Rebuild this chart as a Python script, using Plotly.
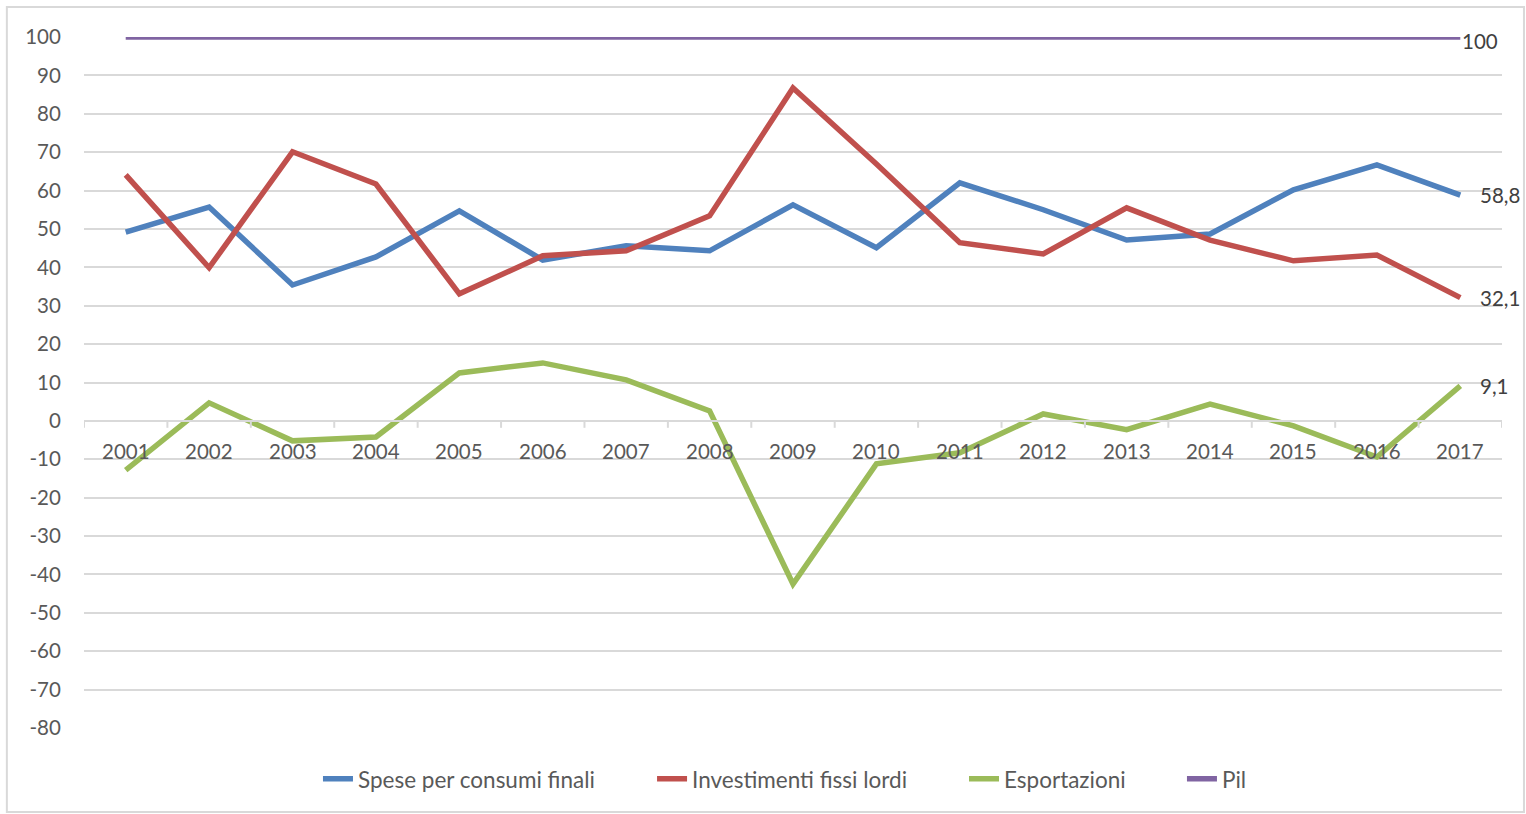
import plotly.graph_objects as go

years = [str(y) for y in range(2001, 2018)]

spese = [49.2, 55.7, 35.4, 42.7, 54.7, 41.9, 45.6, 44.3, 56.3, 45.1, 62.0, 55.0, 47.1, 48.7, 60.2, 66.7, 58.8]
investimenti = [64.1, 39.9, 70.1, 61.7, 33.1, 43.0, 44.3, 53.4, 86.7, 66.9, 46.4, 43.5, 55.5, 47.1, 41.7, 43.2, 32.1]
esportazioni = [-12.8, 4.7, -5.2, -4.2, 12.5, 15.1, 10.7, 2.6, -42.5, -11.2, -8.3, 1.8, -2.3, 4.4, -1.3, -9.4, 9.1]
pil = [100] * 17

series_names = ["Spese per consumi finali", "Investimenti fissi lordi", "Esportazioni", "Pil"]
series_values = [spese, investimenti, esportazioni, pil]
series_colors = ["#4F81BD", "#C0504D", "#9BBB59", "#8064A2"]
end_labels = ["58,8", "32,1", "9,1", "100"]

y_ticks = list(range(-80, 101, 10))

FONT = "Lato"
TXT = "#595959"
GRID = "#D9D9D9"

# legend entries placement (paper x of each legend box)
legend_ids = ["legend", "legend2", "legend3", "legend4"]
legend_x = [0.165, 0.4006, 0.6206, 0.7743]

fig = go.Figure()
for name, vals, col, lid in zip(series_names, series_values, series_colors, legend_ids):
    fig.add_trace(go.Scatter(
        x=list(range(len(years))), y=vals, name=name, mode="lines",
        line=dict(color=col, width=5.5),
        hoverinfo="skip", legend=lid,
    ))

annotations = []
for i, yr in enumerate(years):
    annotations.append(dict(x=i, y=0, xref="x", yref="y", text=yr, showarrow=False,
                            yshift=-30, font=dict(family=FONT, size=20.5, color=TXT)))
for vals, lab in zip(series_values, end_labels):
    ys = -4 if lab == "100" else 0
    xs = 0 if lab == "100" else 18
    annotations.append(dict(x=len(years) - 1, y=vals[-1], xref="x", yref="y", text=lab,
                            showarrow=False, xanchor="left", xshift=xs, yshift=ys,
                            font=dict(family=FONT, size=20.5, color="#404040")))

shapes = []
for i in range(len(years) + 1):
    shapes.append(dict(type="line", xref="x", yref="y", x0=i - 0.5, x1=i - 0.5,
                       y0=0, y1=-1.8, line=dict(color=GRID, width=2)))
shapes.append(dict(type="line", xref="x", yref="y", x0=-0.5, x1=len(years) - 0.5,
                   y0=0, y1=0, line=dict(color=GRID, width=2)))
shapes.append(dict(type="rect", xref="paper", yref="paper", x0=-0.0544, x1=1.0155,
                   y0=-0.1216, y1=1.0434, line=dict(color=GRID, width=2), layer="below"))

legend_common = dict(orientation="h", xanchor="left", y=-0.074, yanchor="middle",
                     font=dict(family=FONT, size=22.5, color=TXT), bgcolor="rgba(0,0,0,0)")

layout_legends = {}
for lid, lx in zip(legend_ids, legend_x):
    layout_legends[lid] = dict(legend_common, x=lx)

fig.update_layout(
    width=1526, height=814,
    margin=dict(l=84, r=24, t=37, b=86),
    paper_bgcolor="white", plot_bgcolor="white",
    font=dict(family=FONT, size=20, color=TXT),
    showlegend=True,
    xaxis=dict(range=[-0.5, len(years) - 0.5], showgrid=False, zeroline=False,
               showticklabels=False, showline=False, fixedrange=True),
    yaxis=dict(range=[-80, 100], tickvals=y_ticks, ticktext=[str(v) for v in y_ticks],
               showgrid=True, gridcolor=GRID, gridwidth=2, zeroline=False,
               ticks="outside", ticklen=18, tickcolor="rgba(0,0,0,0)",
               tickfont=dict(family=FONT, size=20.5, color=TXT), showline=False,
               fixedrange=True),
    annotations=annotations,
    shapes=shapes,
    **layout_legends,
)

fig.write_html("out.html", config={"displayModeBar": False},
               post_script="document.body.style.margin='0';")
